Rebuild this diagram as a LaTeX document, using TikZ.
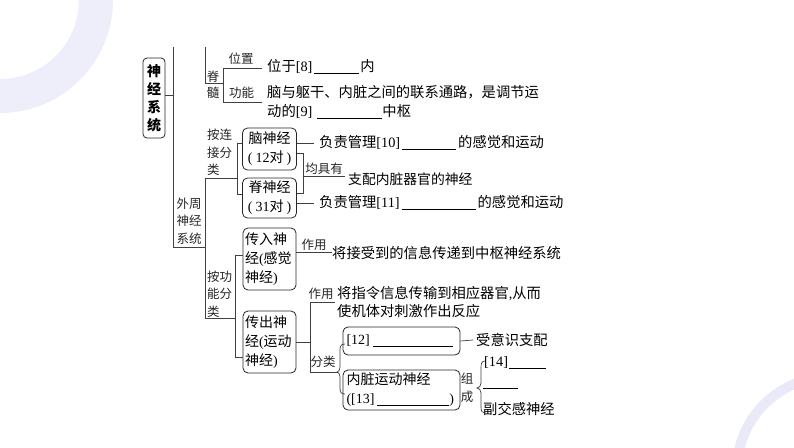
\documentclass[tikz,border=0pt]{standalone}
\usepackage{fontspec}
\setmainfont{Noto Sans CJK SC}
\newfontfamily\lat{Liberation Serif}
\newcommand\blank[1]{\rule[-2.2pt]{#1pt}{0.7pt}}
\definecolor{ringA}{HTML}{EEEEFA}
\definecolor{ringB}{HTML}{E9E9F8}
\begin{document}
\begin{tikzpicture}[x=1pt,y=-1pt,
  ln/.style={draw=black!75, line width=0.7pt},
  bx/.style={draw=black!85, line width=0.8pt, rounded corners=5pt, inner sep=0pt},
  txt/.style={anchor=west, inner sep=0pt, font=\fontsize{14.3}{18}\selectfont},
  lbl/.style={inner sep=0pt, font=\fontsize{12.5}{17.5}\selectfont, text=black!85},
  btxt/.style={font=\fontsize{14}{19}\selectfont}]
% background
\fill[white] (0,0) rectangle (794,447);
\useasboundingbox (0,0) rectangle (794,447);
\begin{scope}
  \clip (0,0) rectangle (794,447);
  \fill[ringA, even odd rule] (0,0) circle (113) (0,0) circle (79);
  \fill[ringB, even odd rule] (830,470) circle (98) (830,470) circle (88);
\end{scope}
% root
\node[bx, rounded corners=4pt, minimum width=22pt, minimum height=80pt, align=center,
      font=\fontsize{14}{18}\selectfont\bfseries] (root) at (154,98) {神\\经\\系\\统};
\coordinate (v1t) at (173,47);
\coordinate (v1b) at (173,247);
\coordinate (pj) at (205,247);
\draw[ln] ([yshift=3pt]root.east) coordinate (rj) -- (rj -| v1t);
\draw[ln] (v1t) -- (v1b) -- (pj);
\node[lbl, align=center] (wz) at (189,221) {外周\\神经\\系统};
% top part (spinal cord)
\coordinate (s1) at (205,47);
\coordinate (s2) at (205,83);
\coordinate (p1) at (223,68);
\coordinate (p2) at (223,102);
\coordinate (p1r) at (262,68);
\coordinate (p2r) at (262,102);
\draw[ln] (s1) -- (s2) -- (s2 -| p1);
\draw[ln] (p1) -- (p2);
\draw[ln] (p1) -- (p1r);
\draw[ln] (p2) -- (p2r);
\node[lbl] (ji) at (213,77) {脊};
\node[lbl] (sui) at (213,93) {髓};
\node[lbl] (wzl) at (241,59) {位置};
\node[lbl] (gnl) at (241.5,93) {功能};
\node[txt] (t8) at (267,67) {位于{\lat[8]}\hspace{2pt}\blank{45}\hspace{1pt}内};
\node[txt] (t9a) at (267,92) {脑与躯干、内脏之间的联系通路，是调节运};
\node[txt] (t9b) at (267,112) {动的{\lat[9]}\hspace{5pt}\blank{65}中枢};
% peripheral: connection classification
\coordinate (c1) at (205,178);
\coordinate (c2) at (205,318);
\coordinate (k1t) at (237,143);
\coordinate (k1b) at (237,194);
\draw[ln] (c1) -- (c2);
\draw[ln] (c1) -- (c1 -| k1t);
\node[lbl, align=left] (ljl) at (219.5,152.5) {按连\\接分\\类\phantom{分}};
\node[bx, btxt, minimum width=54pt, minimum height=42pt, align=center] (b1) at (269.5,149)
  {脑神经\\{\lat(\kern3pt 12}对{\lat\kern3pt )}};
\node[bx, btxt, minimum width=54pt, minimum height=40pt, align=center] (b2) at (269.5,198)
  {脊神经\\{\lat(\kern3pt 31}对{\lat\kern3pt )}};
\draw[ln] (k1t) -- (k1b);
\draw[ln] (k1t) -- (k1t -| b1.west);
\draw[ln] (k1b) -- (k1b -| b2.west);
\node[txt] (t10) at (319,143) {负责管理{\lat[10]}\hspace{2pt}\blank{54}\hspace{2pt}的感觉和运动};
\node[txt] (t11) at (319,203) {负责管理{\lat[11]}\hspace{2pt}\blank{74}\hspace{2pt}的感觉和运动};
\draw[ln] (b1.east |- t10.west) -- ([xshift=-5pt]t10.west);
\draw[ln] (b2.east |- t11.west) -- ([xshift=-5pt]t11.west);
\coordinate (j1) at (303,153);
\coordinate (j2) at (303,193);
\coordinate (jm) at (303,176);
\coordinate (jr) at (345,176);
\draw[ln] (b1.east |- j1) -- (j1) -- (j2) -- (b2.east |- j2);
\draw[ln] (jm) -- (jr);
\node[lbl] (jjy) at (324,169) {均具有};
\node[txt, font=\fontsize{13.8}{18}\selectfont] (tzp) at (348,179) {支配内脏器官的神经};
% peripheral: function classification
\coordinate (k2t) at (235,255);
\coordinate (k2b) at (235,357);
\draw[ln] (c2) -- (c2 -| k2t);
\node[lbl, align=left] (lgn) at (219.5,294) {按功\\能分\\类\phantom{分}};
\node[bx, btxt, minimum width=53pt, minimum height=62pt, text width=49pt, inner xsep=2pt, align=left] (b3) at (269.5,259)
  {传入神\\经{\lat(}感觉\\神经{\lat)}};
\node[bx, btxt, minimum width=53pt, minimum height=62pt, text width=49pt, inner xsep=2pt, align=left] (b4) at (269.5,342)
  {传出神\\经{\lat(}运动\\神经{\lat)}};
\draw[ln] (k2t) -- (k2b);
\draw[ln] (k2t) -- (k2t -| b3.west);
\draw[ln] (k2b) -- (k2b -| b4.west);
% afferent
\node[txt] (tz1) at (332,253) {将接受到的信息传递到中枢神经系统};
\draw[ln] ([yshift=7pt]b3.east) coordinate (b3r) -- (b3r -| tz1.west);
\node[lbl] (zy1) at (314,245) {作用};
% efferent
\coordinate (z1) at (310,302);
\coordinate (z2) at (310,372);
\coordinate (z1r) at (335,302);
\coordinate (tip1) at (337,372);
\draw[ln] (b4.east) -- (b4.east -| z1);
\draw[ln] (z1) -- (z2) -- (tip1);
\draw[ln] (z1) -- (z1r);
\node[lbl] (zy2) at (321,294) {作用};
\node[lbl] (fl) at (323,362) {分类};
\node[txt] (tc1) at (337,294) {将指令信息传输到相应器官{\lat,}从而};
\node[txt] (tc2) at (337,311) {使机体对刺激作出反应};
% brace 1
\draw[ln] (345,344) .. controls (341,344) and (340,346) .. (340,350) -- (340,367)
  .. controls (340,370) and (338.5,372) .. (tip1) .. controls (338.5,372) and (340,374) .. (340,377)
  -- (340,389) .. controls (340,392) and (341,394) .. (345,394);
\node[bx, minimum width=117pt, minimum height=28pt, text width=110pt, inner xsep=3.5pt, align=left, btxt] (b12) at (401.5,341)
  {{\lat[12]}\hspace{3pt}\blank{80}};
\node[bx, minimum width=117pt, minimum height=40pt, text width=110pt, inner xsep=3.5pt, align=left, btxt] (b13) at (401.5,390)
  {内脏运动神经\\{\lat([13]}\hspace{3pt}\blank{72}{\lat)}};
\node[txt] (tsy) at (476,340) {受意识支配};
\draw[ln] (b12.east) -- ([xshift=-3pt]tsy.west);
\node[lbl] (zu) at (467,379) {组};
\node[lbl] (cheng) at (467,397) {成};
% brace 2
\coordinate (tip2) at (477,388);
\draw[ln] (485,361) .. controls (481.5,361) and (481,364) .. (481,368) -- (481,383)
  .. controls (481,386) and (479,388) .. (tip2) .. controls (479,388) and (481,390) .. (481,393)
  -- (481,407) .. controls (481,411) and (482,413) .. (485,413);
\node[txt] (t14) at (484,363) {{\lat[14]}\hspace{1pt}\blank{37}};
\coordinate (bl2a) at (483,388);
\coordinate (bl2b) at (518,388);
\draw[line width=0.7pt] (bl2a) -- (bl2b);
\node[txt] (tfj) at (483,409) {副交感神经};
\end{tikzpicture}
\end{document}
